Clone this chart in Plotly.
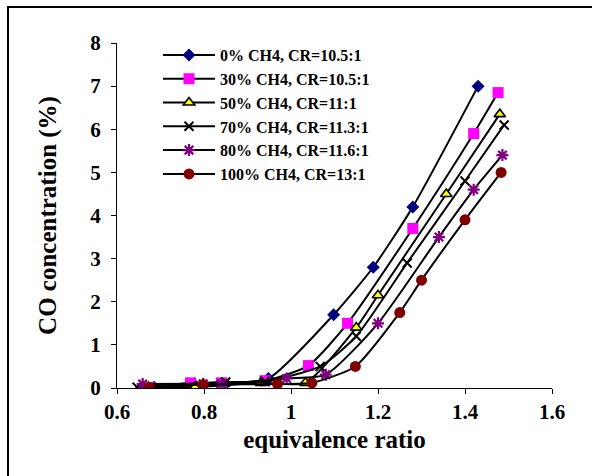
import plotly.graph_objects as go

# ---- data ----
names = ["0% CH4, CR=10.5:1", "30% CH4, CR=10.5:1", "50% CH4, CR=11:1",
         "70% CH4, CR=11.3:1", "80% CH4, CR=11.6:1", "100% CH4, CR=13:1"]

x_0 = [0.685, 0.78, 0.85, 0.948, 1.098, 1.189, 1.28, 1.43]
y_0 = [0.02, 0.05, 0.10, 0.22, 1.70, 2.80, 4.20, 7.00]

x_30 = [0.676, 0.769, 0.84, 0.94, 1.04, 1.13, 1.28, 1.42, 1.476]
y_30 = [0.0, 0.12, 0.12, 0.17, 0.52, 1.50, 3.70, 5.90, 6.85]

x_50 = [0.672, 0.779, 0.931, 1.033, 1.15, 1.20, 1.357, 1.48]
y_50 = [0.02, 0.02, 0.12, 0.12, 1.40, 2.15, 4.50, 6.35]

x_70 = [0.646, 0.85, 0.94, 1.067, 1.15, 1.267, 1.40, 1.49]
y_70 = [0.02, 0.14, 0.15, 0.50, 1.20, 2.90, 4.80, 6.10]

x_80 = [0.659, 0.798, 0.84, 0.99, 1.08, 1.20, 1.34, 1.42, 1.486]
y_80 = [0.09, 0.10, 0.10, 0.22, 0.31, 1.50, 3.50, 4.60, 5.40]

x_100 = [0.674, 0.798, 0.969, 1.048, 1.148, 1.25, 1.30, 1.40, 1.483]
y_100 = [0.02, 0.08, 0.09, 0.12, 0.50, 1.75, 2.50, 3.90, 5.00]

xs = [x_0, x_30, x_50, x_70, x_80, x_100]
ys = [y_0, y_30, y_50, y_70, y_80, y_100]

x_ticks = [0.6, 0.8, 1.0, 1.2, 1.4, 1.6]
x_tick_text = ["0.6", "0.8", "1", "1.2", "1.4", "1.6"]
y_ticks = [0, 1, 2, 3, 4, 5, 6, 7, 8]

markers = [
    dict(symbol="diamond", size=10, color="#000080", line=dict(width=0)),
    dict(symbol="square", size=11, color="#FF00FF", line=dict(width=0)),
    dict(symbol="triangle-up", size=10, color="#FFFF00", line=dict(width=1.6, color="black")),
    dict(symbol="x-thin-open", size=9, color="black", line=dict(width=2, color="black")),
    dict(symbol="asterisk-open", size=10, color="#800080", line=dict(width=2.2, color="#800080")),
    dict(symbol="circle", size=11, color="#800000", line=dict(width=0)),
]

fig = go.Figure()
for n, x, y, m in zip(names, xs, ys, markers):
    fig.add_trace(go.Scatter(
        x=x, y=y, name=n, mode="lines+markers",
        line=dict(color="black", width=2, shape="spline", smoothing=0.6),
        marker=m,
    ))

W, H = 592, 476
L, R, T, B = 117, 40, 43, 88
pw, ph = W - L - R, H - T - B


def px2paper(px, py):
    return (px - L) / pw, (H - B - py) / ph


bx0, by0 = px2paper(8, 7)
bx1, by1 = px2paper(620, 500)

fig.update_layout(
    width=W, height=H,
    margin=dict(l=L, r=R, t=T, b=B),
    paper_bgcolor="white", plot_bgcolor="white",
    font=dict(family="Liberation Serif", size=21, color="black", weight="bold"),
    showlegend=True,
    legend=dict(
        x=(158 - L) / pw, y=px2paper(0, 38)[1], xanchor="left", yanchor="top",
        bgcolor="rgba(0,0,0,0)", font=dict(size=16, family="Liberation Serif", weight="bold"),
        itemwidth=52, tracegroupgap=0,
    ),
    xaxis=dict(
        range=[0.6, 1.6], tickvals=x_ticks, ticktext=x_tick_text,
        showline=True, linecolor="black", linewidth=1, ticks="outside", ticklen=5,
        tickcolor="black", showgrid=False, zeroline=False,
        title=dict(text="equivalence ratio", standoff=7),
    ),
    yaxis=dict(
        range=[0, 8], tickvals=y_ticks,
        showline=True, linecolor="black", linewidth=1, ticks="outside", ticklen=5,
        tickcolor="black", showgrid=False, zeroline=False, ticklabelstandoff=6,
        title=dict(text="CO concentration (%)", standoff=26),
    ),
    shapes=[dict(type="rect", xref="paper", yref="paper", x0=bx0, y0=by1, x1=bx1, y1=by0,
                 line=dict(color="black", width=2), fillcolor="rgba(0,0,0,0)", layer="above")],
)

fig.write_html("out.html", config={"displayModeBar": False},
               post_script="document.body.style.margin='0';document.body.style.overflow='hidden';")
